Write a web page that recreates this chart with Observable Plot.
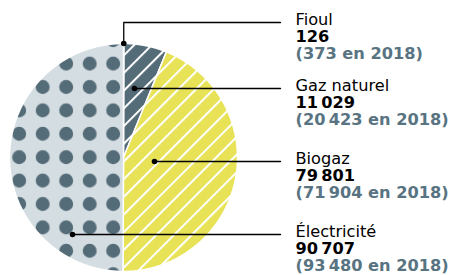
<!DOCTYPE html>
<html><head><meta charset="utf-8">
<script src="https://cdn.jsdelivr.net/npm/d3@7"></script>
<script src="https://cdn.jsdelivr.net/npm/@observablehq/plot@0.6"></script>
<style>body{margin:0;background:#fff} svg{display:block}</style>
</head><body><div id="chart"></div>
<script>
// ---- data ----
const categories = ["Fioul", "Gaz naturel", "Biogaz", "Électricité"];
const values2019 = [126, 11029, 79801, 90707];
const values2018 = [373, 20423, 71904, 93480];

// ---- layout / style ----
const W = 453, H = 275;
const cx = 123, cy = 157, R = 114;
const SLATE = "#546b78", YELLOW = "#e8e257", LIGHT = "#d4dde1", GREY_TXT = "#587381";
const fills = [SLATE, "url(#hatchDark)", "url(#hatchYellow)", "url(#dots)"];
const lineY = [22, 88, 161, 234];
const anchorX = [null, 134, 154, 72];
const lineEndX = 280, textX = 295;
const FS = 16.2;

const fmt = d3.formatLocale({decimal: ",", thousands: "\u2009", grouping: [3], currency: ["", ""]}).format(",d");

const arcs = d3.pie().sort(null).value(d => d)(values2019);
const slices = arcs.flatMap((a, i) => {
  const pts = [{i, x: cx, y: cy}];
  const n = Math.max(2, Math.ceil((a.endAngle - a.startAngle) / 0.005));
  for (let k = 0; k <= n; k++) {
    const t = a.startAngle + (a.endAngle - a.startAngle) * k / n;
    pts.push({i, x: cx + R * Math.sin(t), y: cy - R * Math.cos(t)});
  }
  pts.push({i, x: cx, y: cy});
  return pts;
});

const labels = categories.map((c, i) => {
  let ax, ay;
  if (i === 0) {
    const m = (arcs[0].startAngle + arcs[0].endAngle) / 2;
    ax = cx + R * Math.sin(m); ay = cy - R * Math.cos(m);
  } else { ax = anchorX[i]; ay = lineY[i]; }
  return {i, label: `${c}\n${fmt(values2019[i])}\n(${fmt(values2018[i])} en 2018)`, ax, ay, ly: lineY[i]};
});
const leaders = labels.flatMap(d => {
  const pts = [{i: d.i, x: d.ax, y: d.ay}];
  if (d.ay !== d.ly) pts.push({i: d.i, x: d.ax, y: d.ly});
  pts.push({i: d.i, x: lineEndX, y: d.ly});
  return pts;
});

const chart = Plot.plot({
  width: W, height: H, margin: 0,
  x: {domain: [0, W], range: [0, W], axis: null},
  y: {domain: [0, H], range: [0, H], axis: null},
  style: {fontFamily: "'DejaVu Sans', sans-serif", background: "white"},
  marks: [
    ...categories.map((c, i) => Plot.line(slices.filter(d => d.i === i), {
      x: "x", y: "y", fill: fills[i], stroke: "white", strokeWidth: 1.5, strokeLinejoin: "round"
    })),
    Plot.line(leaders, {x: "x", y: "y", z: "i", stroke: "black", strokeWidth: 1.3}),
    Plot.dot(labels, {x: "ax", y: "ay", r: 2.8, fill: "black", stroke: null}),
    Plot.text(labels, {x: () => textX, y: d => d.ly + 2 - 0.71 * FS, text: "label", textAnchor: "start",
      lineAnchor: "top", lineHeight: 17 / FS, fontSize: FS, fill: "black", className: "lbl"})
  ]
});

const svg = d3.select(chart);
// style the lines of each label
svg.selectAll("g.lbl text").each(function() {
  const ts = d3.select(this).selectAll("tspan");
  ts.filter((d, k) => k >= 1).attr("font-weight", "bold");
  ts.filter((d, k) => k === 2).attr("fill", GREY_TXT);
});

// patterns
const defs = svg.insert("defs", ":first-child");
const HS = 12.5;
function hatch(id, bg) {
  const p = defs.append("pattern").attr("id", id).attr("patternUnits", "userSpaceOnUse")
    .attr("width", HS).attr("height", HS).attr("patternTransform", "rotate(45)");
  p.append("rect").attr("width", HS).attr("height", HS).attr("fill", bg);
  p.append("line").attr("x1", 0).attr("y1", 0).attr("x2", 0).attr("y2", HS).attr("stroke", "white").attr("stroke-width", 4);
}
hatch("hatchDark", SLATE);
hatch("hatchYellow", YELLOW);
const S = 23.5;
const dp = defs.append("pattern").attr("id", "dots").attr("patternUnits", "userSpaceOnUse")
  .attr("width", S).attr("height", 23.4).attr("x", 112.7 - S / 2).attr("y", 156.7 - 23.4 / 2);
dp.append("rect").attr("width", S).attr("height", 23.4).attr("fill", LIGHT);
dp.append("circle").attr("cx", S / 2).attr("cy", 23.4 / 2).attr("r", 7).attr("fill", SLATE);

document.getElementById("chart").append(chart);
</script>
</body></html>
